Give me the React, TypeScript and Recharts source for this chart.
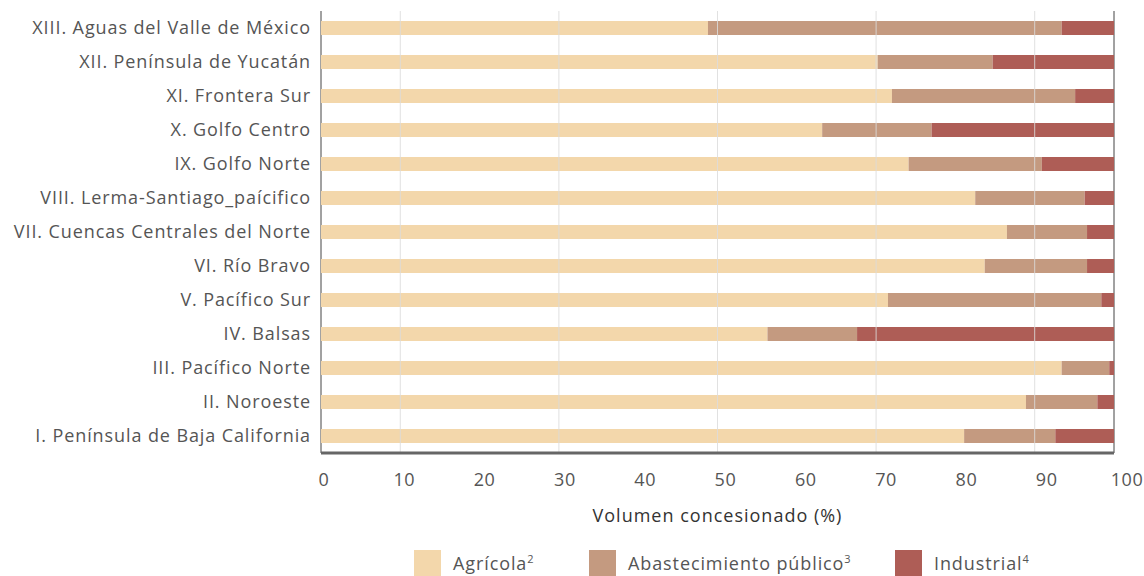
import React from "react";
import {
  Bar,
  BarChart,
  CartesianGrid,
  Legend,
  ReferenceLine,
  XAxis,
  YAxis,
} from "recharts";

const regiones = [
  "XIII. Aguas del Valle de México",
  "XII. Península de Yucatán",
  "XI. Frontera Sur",
  "X. Golfo Centro",
  "IX. Golfo Norte",
  "VIII. Lerma-Santiago_paícifico",
  "VII. Cuencas Centrales del Norte",
  "VI. Río Bravo",
  "V. Pacífico Sur",
  "IV. Balsas",
  "III. Pacífico Norte",
  "II. Noroeste",
  "I. Península de Baja California",
];

const agricola = [48.8, 70.2, 72.0, 63.2, 74.1, 82.5, 86.5, 83.7, 71.5, 56.3, 93.4, 88.9, 81.1];
const abastecimiento = [44.6, 14.5, 23.1, 13.8, 16.8, 13.8, 10.1, 12.9, 26.9, 11.3, 6.0, 9.0, 11.5];
const industrial = [6.6, 15.3, 4.9, 23.0, 9.1, 3.7, 3.4, 3.4, 1.6, 32.4, 0.6, 2.1, 7.4];

const xTicks = [0, 10, 20, 30, 40, 50, 60, 70, 80, 90, 100];
const majorTicks = [20, 40, 60, 80, 100];
const minorTicks = [10, 30, 50, 70, 90];

const series = [
  { key: "agricola", name: "Agrícola", sup: "2", color: "#F3D7AB", itemWidth: 175 },
  { key: "abastecimiento", name: "Abastecimiento público", sup: "3", color: "#C49A80", itemWidth: 306 },
  { key: "industrial", name: "Industrial", sup: "4", color: "#AE5D56", itemWidth: 150 },
];

const data = regiones.map((region, i) => ({
  region,
  agricola: agricola[i],
  abastecimiento: abastecimiento[i],
  industrial: industrial[i],
}));

const FONT = "'Open Sans', sans-serif";
const TEXT = "#555";

// x tick labels drift slightly right of their gridlines toward the end of the axis
function XTick({ x, y, payload }: any) {
  const v = payload.value as number;
  return (
    <text
      x={x + 3 + v * 0.1}
      y={y}
      dy={27}
      textAnchor="middle"
      fill={TEXT}
      fontSize={18}
      fontFamily={FONT}
      letterSpacing={0.6}
    >
      {v}
    </text>
  );
}

function LegendContent() {
  return (
    <div
      style={{
        display: "flex",
        alignItems: "center",
        height: 48,
        paddingTop: 22,
        paddingLeft: 414,
        boxSizing: "border-box",
        fontFamily: FONT,
        fontSize: 18,
        letterSpacing: 0.9,
        color: TEXT,
      }}
    >
      {series.map((s) => (
        <div key={s.key} style={{ display: "flex", alignItems: "center", width: s.itemWidth }}>
          <span style={{ width: 27, height: 26, background: s.color, marginRight: 12, flex: "none" }} />
          <span style={{ whiteSpace: "nowrap" }}>
            {s.name}
            <sup style={{ fontSize: 11, letterSpacing: 0 }}>{s.sup}</sup>
          </span>
        </div>
      ))}
    </div>
  );
}

export default function App() {
  return (
    <div style={{ position: "absolute", left: 0, top: 0, background: "#fff" }}>
      <BarChart
        width={1144}
        height={576}
        data={data}
        layout="vertical"
        margin={{ top: 11, right: 30, bottom: 0, left: 0 }}
        barSize={14}
      >
        <XAxis
          xAxisId="major"
          type="number"
          domain={[0, 100]}
          ticks={majorTicks}
          hide
        />
        <CartesianGrid xAxisId="major" horizontal={false} stroke="#444" />
        <XAxis
          type="number"
          domain={[0, 100]}
          ticks={xTicks}
          height={75}
          tickLine={false}
          tickSize={4}
          axisLine={{ stroke: "#666", strokeWidth: 3 }}
          tick={<XTick />}
          label={{
            value: "Volumen concesionado (%)",
            position: "insideBottom",
            offset: 6,
            fill: "#333",
            fontSize: 18,
            fontFamily: FONT,
            letterSpacing: 1,
          }}
        />
        <YAxis
          type="category"
          dataKey="region"
          width={321}
          axisLine={false}
          tickLine={false}
          tickSize={0}
          tickMargin={10}
          interval={0}
          tick={{ fill: TEXT, fontSize: 18, fontFamily: FONT, letterSpacing: 0.9 }}
        />
        {series.map((s) => (
          <Bar
            key={s.key}
            dataKey={s.key}
            name={s.name}
            stackId="v"
            fill={s.color}
            isAnimationActive={false}
          />
        ))}
        {minorTicks.map((t) => (
          <ReferenceLine key={t} x={t} stroke="#dcdcdc" strokeOpacity={0.85} />
        ))}
        <Legend verticalAlign="bottom" height={48} content={<LegendContent />} />
      </BarChart>
    </div>
  );
}
